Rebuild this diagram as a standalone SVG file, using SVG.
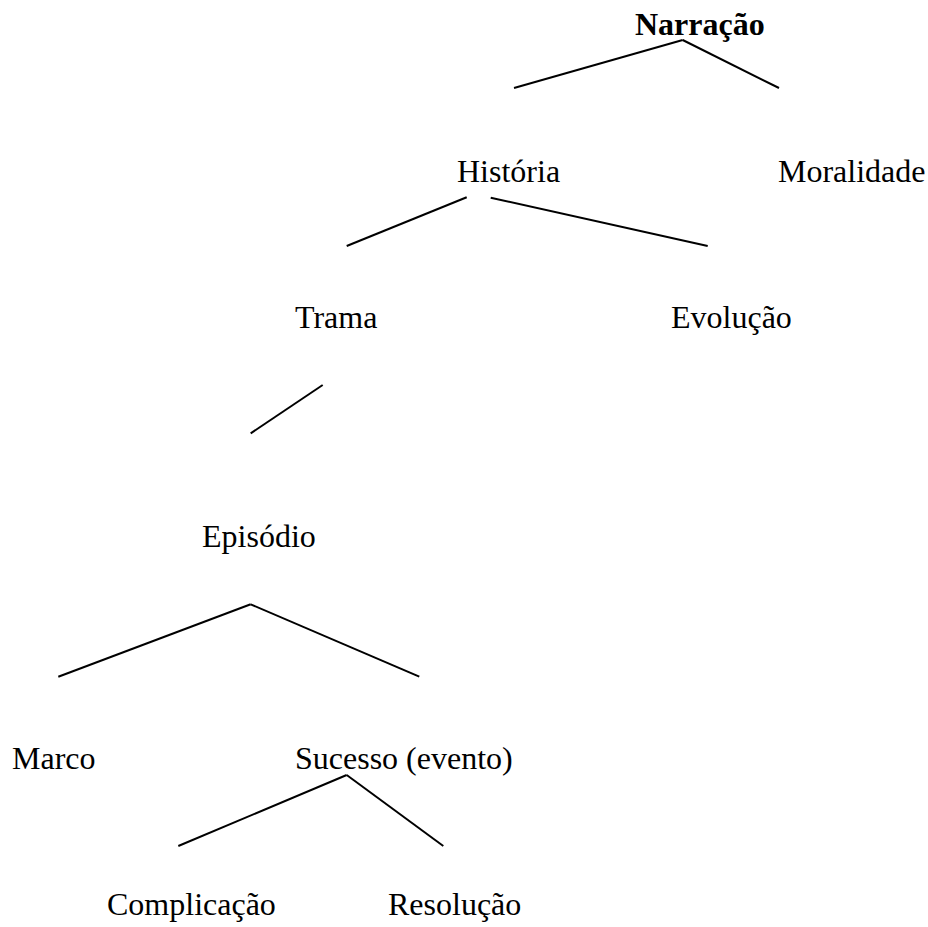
<svg xmlns="http://www.w3.org/2000/svg" width="928" height="927" viewBox="0 0 928 927">
<style>
text{font-family:"Liberation Serif","Times New Roman",serif;font-size:32px;fill:#000}
.b{font-weight:bold}
line{stroke:#000;stroke-width:2;stroke-linecap:butt}
</style>
<rect width="928" height="927" fill="#fff"/>
<g id="connectors">
<line x1="682.7" y1="40" x2="514" y2="88"/>
<line x1="682.7" y1="40" x2="779" y2="88"/>
<line x1="466.7" y1="197.3" x2="346.7" y2="246"/>
<line x1="490.7" y1="197.7" x2="707.7" y2="246"/>
<line x1="322.7" y1="385" x2="250.7" y2="433.3"/>
<line x1="250.7" y1="604.3" x2="58.3" y2="676.7"/>
<line x1="250.7" y1="604.3" x2="419.3" y2="676.7"/>
<line x1="346.7" y1="775" x2="178.3" y2="846"/>
<line x1="346.7" y1="775" x2="443.3" y2="846"/>
</g>
<g id="narracao"><text class="b" x="635" y="35">Narração</text></g>
<g id="historia"><text x="457" y="182">História</text></g>
<g id="moralidade"><text x="778" y="182">Moralidade</text></g>
<g id="trama"><text x="295" y="328">Trama</text></g>
<g id="evolucao"><text x="671" y="328">Evolução</text></g>
<g id="episodio"><text x="202" y="547">Episódio</text></g>
<g id="marco"><text x="12" y="769">Marco</text></g>
<g id="sucesso"><text x="295" y="769">Sucesso (evento)</text></g>
<g id="complicacao"><text x="107" y="915">Complicação</text></g>
<g id="resolucao"><text x="388" y="915">Resolução</text></g>
</svg>
